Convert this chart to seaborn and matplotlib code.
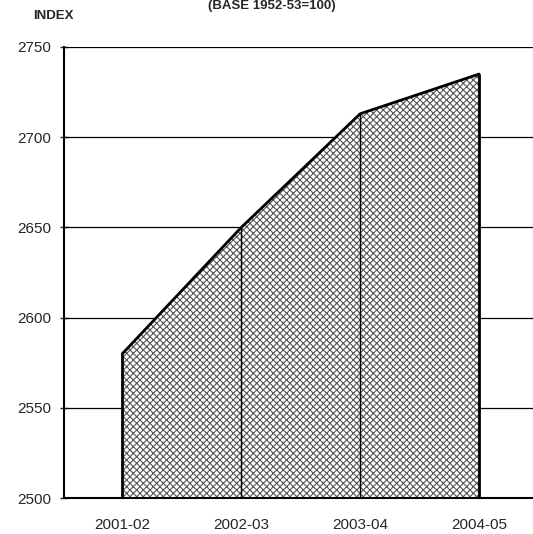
import matplotlib
matplotlib.use('Agg')
import matplotlib.pyplot as plt
import numpy as np
import pandas as pd
import seaborn as sns

years = ['2001-02', '2002-03', '2003-04', '2004-05']
index_values = [2580, 2650, 2713, 2735]
y_ticks = [2500, 2550, 2600, 2650, 2700, 2750]

sns.set_style('white')
plt.rcParams['font.family'] = ['Liberation Sans', 'DejaVu Sans']
plt.rcParams['hatch.color'] = '#3a3a3a'
plt.rcParams['hatch.linewidth'] = 0.8

df = pd.DataFrame({'pos': np.arange(len(years)), 'index': index_values})

fig = plt.figure(figsize=(5.33, 5.34), dpi=100)
ax = fig.add_axes([0.12, 0.067, 0.895, 0.845])

for t in y_ticks[1:]:
    ax.axhline(t, color='black', lw=0.9, zorder=1)

ax.fill_between(df['pos'], 2500, df['index'], facecolor='white',
                hatch='xxxxx', edgecolor='#555555', lw=0, zorder=2)
sns.lineplot(data=df, x='pos', y='index', color='black', lw=2, ax=ax, zorder=4)
# outer edges and inner dividers of the area
ax.vlines(df['pos'].iloc[[0, -1]], 2500, df['index'].iloc[[0, -1]], color='black', lw=2, zorder=4)
ax.vlines(df['pos'].iloc[1:-1], 2500, df['index'].iloc[1:-1], color='black', lw=1, zorder=4)

ax.set_xlim(-0.49, 3.52)
ax.set_ylim(2500, 2750)
ax.set_yticks(y_ticks)
ax.set_xticks(df['pos'])
ax.set_xticklabels(years)
ax.set_xticks([0.5, 1.5, 2.5], minor=True)
ax.tick_params(axis='x', which='major', length=0, pad=14, labelsize=11)
ax.tick_params(axis='x', which='minor', length=4, width=1, direction='inout')
ax.tick_params(axis='y', length=6, width=1, direction='inout', labelsize=11, left=True, pad=6)
ax.set_xlabel('')
ax.set_ylabel('')

for side in ['left', 'bottom']:
    ax.spines[side].set_linewidth(1.5)
    ax.spines[side].set_color('black')
ax.spines['right'].set_visible(False)
ax.spines['top'].set_visible(False)

fig.text(0.51, 0.988, '(BASE 1952-53=100)', ha='center', va='center',
         fontsize=9.5, fontweight='bold')
fig.text(0.062, 0.97, 'INDEX', ha='left', va='center', fontsize=9.5, fontweight='bold')

fig.savefig('out.png', dpi=100)
